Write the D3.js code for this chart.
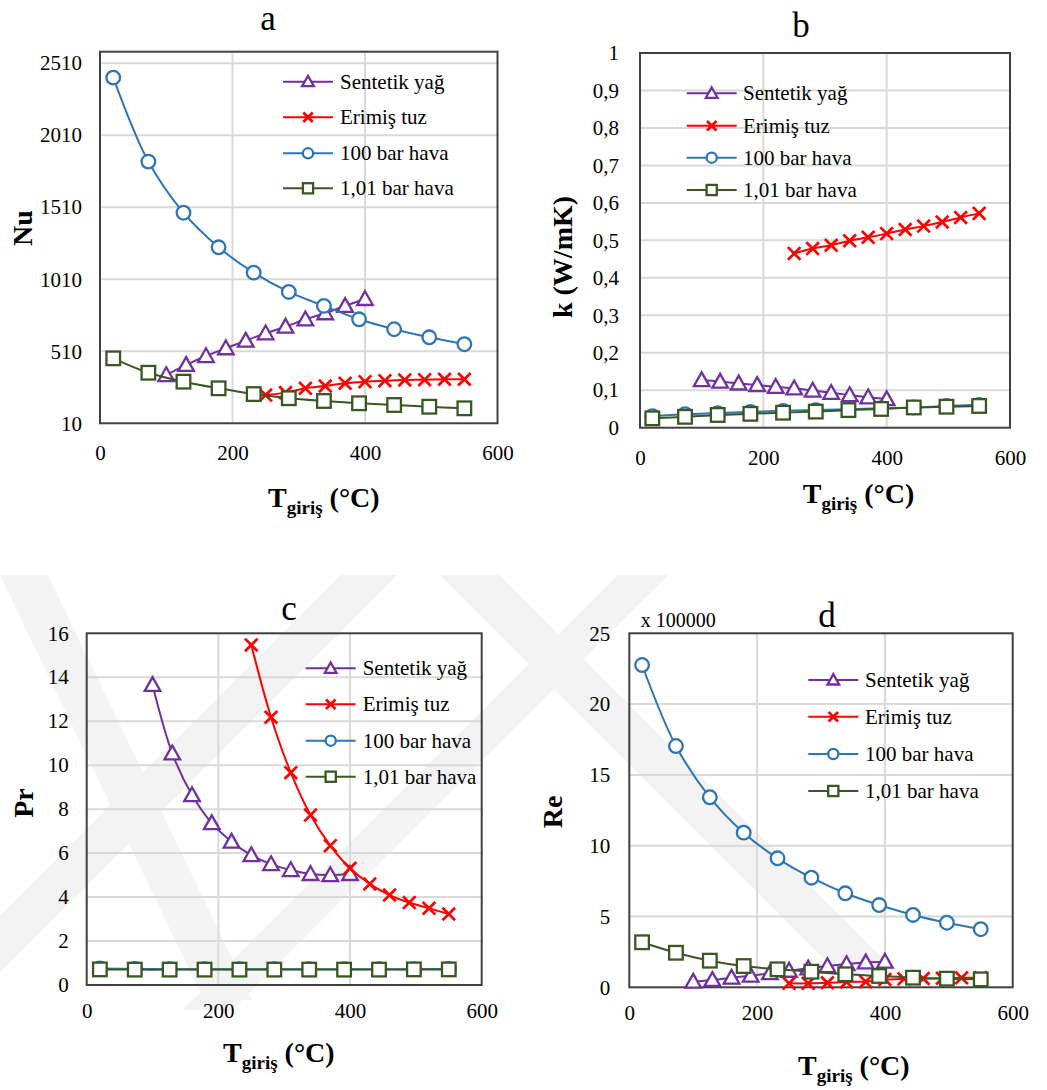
<!DOCTYPE html>
<html>
<head>
<meta charset="utf-8">
<script src="https://cdn.jsdelivr.net/npm/d3@7"></script>
<style>
  body { margin: 0; background: #fff; }
  svg { display: block; }
  text { font-family: "Liberation Serif", "Times New Roman", serif; fill: #000; }
</style>
</head>
<body>
<svg id="fig" width="1047" height="1090"></svg>
<script>
// Inlet temperatures (°C) for each fluid
const airT  = [20, 73, 126, 179, 232, 285, 338, 391, 444, 497, 550];
const oilT  = [100, 130, 160, 190, 220, 250, 280, 310, 340, 370, 400];
const saltT = [250, 280, 310, 340, 370, 400, 430, 460, 490, 520, 550];

// Series names
const seriesNames = ["Sentetik yağ", "Erimiş tuz", "100 bar hava", "1,01 bar hava"];

// (a) Nusselt number
const oilNu    = [345, 415, 477, 531, 584, 635, 681, 732, 774, 825, 873];
const saltNu   = [206, 223, 253, 269, 288, 299, 306, 311, 313, 316, 316];
const air100Nu = [2410, 1827, 1472, 1232, 1056, 922, 825, 732, 663, 607, 559];
const air1Nu   = [461, 361, 299, 253, 213, 184, 165, 149, 137, 125, 114];

// (b) thermal conductivity, W/mK
const oilK    = [0.127, 0.123, 0.118, 0.114, 0.109, 0.105, 0.099, 0.093, 0.087, 0.081, 0.076];
const saltK   = [0.465, 0.478, 0.487, 0.499, 0.508, 0.518, 0.529, 0.538, 0.549, 0.561, 0.572];
const air100K = [0.031, 0.036, 0.039, 0.042, 0.045, 0.047, 0.049, 0.052, 0.054, 0.058, 0.061];
const air1K   = [0.025, 0.029, 0.034, 0.037, 0.040, 0.043, 0.047, 0.050, 0.054, 0.056, 0.058];

// (c) Prandtl number
const oilPr    = [13.65, 10.54, 8.64, 7.36, 6.52, 5.91, 5.50, 5.23, 5.05, 5.00, 5.05];
const saltPr   = [15.47, 12.18, 9.66, 7.73, 6.34, 5.31, 4.60, 4.09, 3.75, 3.49, 3.23];
const air100Pr = [0.75, 0.73, 0.72, 0.72, 0.72, 0.72, 0.72, 0.72, 0.72, 0.72, 0.73];
const air1Pr   = [0.71, 0.70, 0.70, 0.70, 0.70, 0.70, 0.70, 0.70, 0.70, 0.71, 0.71];

// (d) Reynolds number, in units of 100000
const oilRe    = [0.40, 0.52, 0.68, 0.82, 1.00, 1.17, 1.34, 1.50, 1.64, 1.76, 1.81];
const saltRe   = [0.28, 0.28, 0.32, 0.38, 0.40, 0.55, 0.60, 0.62, 0.64, 0.67, 0.68];
const air100Re = [22.76, 17.04, 13.42, 10.92, 9.11, 7.74, 6.64, 5.81, 5.11, 4.56, 4.10];
const air1Re   = [3.18, 2.44, 1.88, 1.50, 1.27, 1.10, 0.92, 0.80, 0.68, 0.61, 0.56];

// Axis ticks
const xTicks   = [0, 200, 400, 600];
const nuTicks  = [10, 510, 1010, 1510, 2010, 2510];
const kTicks   = d3.range(0, 11).map(i => i / 10);
const prTicks  = [0, 2, 4, 6, 8, 10, 12, 14, 16];
const reTicks  = [0, 5, 10, 15, 20, 25];

const colors  = ["#7030A0", "#FF0000", "#2E75B6", "#385723"];
const symbols = ["tri", "x", "circle", "square"];
const xs      = [oilT, saltT, airT, airT];

const commaFmt = d => String(d).replace(".", ",");

const panels = [
  { letter: "a", ylabel: "Nu", px: [100, 497.5], py: [423.3, 51.7], ydom: [10, 2590],
    yticks: nuTicks, yfmt: String, data: [oilNu, saltNu, air100Nu, air1Nu],
    title: [268, 30], ylab: [22, 228], xtitle: [268, 507], xtickY: 459, ytickGap: 18,
    legend: { sx: 308, tx: 340, rows: [81.7, 117.3, 153.3, 188.3] } },
  { letter: "b", ylabel: "k (W/mK)", px: [640, 1010], py: [427.7, 53], ydom: [0, 1],
    yticks: kTicks, yfmt: commaFmt, data: [oilK, saltK, air100K, air1K],
    title: [801, 37], ylab: [562, 257], xtitle: [802.7, 503], xtickY: 464, ytickGap: 21,
    legend: { sx: 711.7, tx: 743, rows: [93.3, 125.7, 157.7, 190] } },
  { letter: "c", ylabel: "Pr", px: [86.7, 481.7], py: [985, 633.3], ydom: [0, 16],
    yticks: prTicks, yfmt: String, data: [oilPr, saltPr, air100Pr, air1Pr],
    title: [289, 620], ylab: [23, 803], xtitle: [223, 1062], xtickY: 1017, ytickGap: 18,
    legend: { sx: 330.7, tx: 362.7, rows: [668.3, 704.3, 740.7, 776.7] } },
  { letter: "d", ylabel: "Re", px: [629.3, 1012.7], py: [987.3, 633.3], ydom: [0, 25],
    yticks: reTicks, yfmt: String, data: [oilRe, saltRe, air100Re, air1Re],
    title: [827, 627], ylab: [552, 812], xtitle: [798, 1075], xtickY: 1019, ytickGap: 19,
    multiplier: { text: "x 100000", x: 640.7, y: 627 },
    legend: { sx: 833.3, tx: 865, rows: [680, 716.7, 754, 791] } }
];

const svg = d3.select("#fig");

// Faint background emblem: diagonal bands behind the lower charts
const emblem = svg.append("g").attr("fill", "#f3f3f3");
const bands = [
  [[0, 575], [48, 575], [252, 1000], [204, 1000]],
  [[340, 575], [398, 575], [0, 973], [0, 915]],
  [[618, 575], [668, 575], [232, 1010], [182, 1010]],
  [[440, 575], [500, 575], [900, 975], [840, 975]]
];
bands.forEach(p => emblem.append("path").attr("d", "M" + p.map(q => q.join(",")).join("L") + "Z"));

function drawMarker(g, type, color, k) {
  if (type === "circle") {
    g.append("circle").attr("r", 6.8 * k).attr("fill", "#fff").attr("stroke", color).attr("stroke-width", 2.3);
  } else if (type === "square") {
    g.append("rect").attr("x", -6.8 * k).attr("y", -6.8 * k).attr("width", 13.6 * k).attr("height", 13.6 * k)
      .attr("fill", "#fff").attr("stroke", color).attr("stroke-width", 2.3);
  } else if (type === "tri") {
    g.append("path").attr("d", `M0,${-7.8 * k}L${7.8 * k},${6 * k}L${-7.8 * k},${6 * k}Z`)
      .attr("fill", "#fff").attr("stroke", color).attr("stroke-width", 2.3).attr("stroke-linejoin", "miter");
  } else {
    const r = 6.3 * k;
    g.append("path").attr("d", `M${-r},${-r}L${r},${r}M${-r},${r}L${r},${-r}`)
      .attr("stroke", color).attr("stroke-width", 2.7);
  }
}

panels.forEach(p => {
  const x = d3.scaleLinear().domain([0, 600]).range(p.px);
  const y = d3.scaleLinear().domain(p.ydom).range(p.py);
  const g = svg.append("g");

  // gridlines
  const grid = g.append("g").attr("stroke", "#d9d9d9").attr("stroke-width", 2);
  p.yticks.forEach(t => {
    const yy = y(t);
    if (Math.abs(yy - p.py[0]) > 2 && Math.abs(yy - p.py[1]) > 2)
      grid.append("line").attr("x1", p.px[0]).attr("x2", p.px[1]).attr("y1", yy).attr("y2", yy);
  });
  [200, 400].forEach(t => grid.append("line").attr("x1", x(t)).attr("x2", x(t)).attr("y1", p.py[0]).attr("y2", p.py[1]));

  // tick labels
  const yAxis = g.append("g").attr("transform", `translate(${p.px[0] - p.ytickGap},0)`)
    .call(d3.axisLeft(y).tickValues(p.yticks).tickFormat(p.yfmt).tickSize(0).tickPadding(0));
  yAxis.select(".domain").remove();
  yAxis.selectAll("text").attr("font-size", 21).attr("fill", "#000");

  const xAxis = g.append("g").attr("transform", `translate(0,${p.xtickY - 14})`)
    .call(d3.axisBottom(x).tickValues(xTicks).tickFormat(String).tickSize(0).tickPadding(0));
  xAxis.select(".domain").remove();
  xAxis.selectAll("text").attr("font-size", 21).attr("fill", "#000");

  // plot frame
  g.append("rect").attr("x", p.px[0]).attr("y", p.py[1]).attr("width", p.px[1] - p.px[0]).attr("height", p.py[0] - p.py[1])
    .attr("fill", "none").attr("stroke", "#404040").attr("stroke-width", 2);

  // series: smoothed lines with hollow markers
  const line = d3.line().curve(d3.curveCatmullRom.alpha(0.5)).x(d => x(d[0])).y(d => y(d[1]));
  p.data.forEach((vals, i) => {
    const pts = vals.map((v, j) => [xs[i][j], v]);
    g.append("path").attr("d", line(pts)).attr("fill", "none").attr("stroke", colors[i]).attr("stroke-width", 2);
    pts.forEach(d => {
      const m = g.append("g").attr("transform", `translate(${x(d[0])},${y(d[1])})`);
      drawMarker(m, symbols[i], colors[i], 1);
    });
  });

  // legend
  const lg = g.append("g");
  seriesNames.forEach((name, i) => {
    const ry = p.legend.rows[i];
    lg.append("line").attr("x1", p.legend.sx - 25).attr("x2", p.legend.sx + 25).attr("y1", ry).attr("y2", ry)
      .attr("stroke", colors[i]).attr("stroke-width", 2);
    const m = lg.append("g").attr("transform", `translate(${p.legend.sx},${ry})`);
    drawMarker(m, symbols[i], colors[i], 0.75);
    lg.append("text").attr("x", p.legend.tx).attr("y", ry).attr("dy", "0.33em").attr("font-size", 21).text(name);
  });

  // panel letter
  g.append("text").attr("x", p.title[0]).attr("y", p.title[1]).attr("text-anchor", "middle")
    .attr("font-size", 35).text(p.letter);

  // y-axis title
  g.append("text").attr("transform", `translate(${p.ylab[0]},${p.ylab[1]}) rotate(-90)`)
    .attr("text-anchor", "middle").attr("dy", "0.35em").attr("font-size", 28).attr("font-weight", "bold").text(p.ylabel);

  // x-axis title: T with subscript "giriş"
  const xt = g.append("text").attr("x", p.xtitle[0]).attr("y", p.xtitle[1]).attr("font-weight", "bold");
  xt.append("tspan").attr("font-size", 28).text("T");
  xt.append("tspan").attr("font-size", 19).attr("dy", 7).text("giriş");
  xt.append("tspan").attr("font-size", 28).attr("dy", -7).text(" (°C)");

  if (p.multiplier) {
    g.append("text").attr("x", p.multiplier.x).attr("y", p.multiplier.y).attr("font-size", 20).text(p.multiplier.text);
  }
});
</script>
</body>
</html>
